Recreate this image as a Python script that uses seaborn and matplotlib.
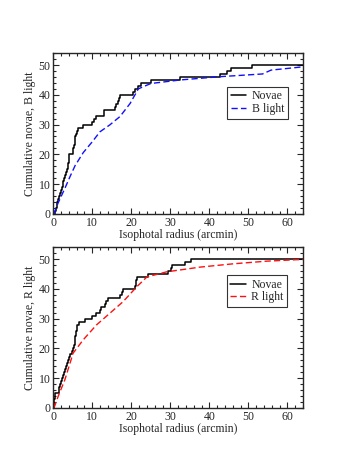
import pandas as pd
import matplotlib
matplotlib.use("Agg")
import matplotlib.pyplot as plt
from matplotlib.ticker import MultipleLocator
import seaborn as sns

# sorted isophotal radii (arcmin) of the 50 novae, B and R images
novae_radius_B = [0.5, 0.7, 0.9, 1.1, 1.3, 1.5, 1.7, 2.0, 2.2, 2.5,
                  2.6, 2.8, 3.1, 3.4, 3.6, 3.8, 3.9, 4.0, 4.05, 4.1,
                  5.0, 5.2, 5.4, 5.5, 5.6, 5.7, 5.8, 6.0, 6.3, 7.6,
                  10.0, 10.4, 10.9, 12.9, 13.0, 15.9, 16.2, 16.6, 16.8, 17.0,
                  20.5, 21.0, 21.8, 22.4, 25.1, 32.6, 42.8, 44.5, 45.6, 51.0]
novae_radius_R = [0.2, 0.25, 0.3, 0.35, 0.4, 1.4, 1.6, 1.8, 2.0, 2.3,
                  2.5, 2.7, 2.9, 3.2, 3.6, 3.8, 4.1, 4.4, 4.7, 5.0,
                  5.3, 5.5, 5.6, 5.7, 5.8, 5.9, 6.0, 6.1, 6.6, 8.2,
                  10.0, 10.9, 12.0, 12.3, 13.3, 13.6, 14.1, 17.1, 17.6, 17.9,
                  21.0, 21.1, 21.2, 21.4, 24.3, 29.5, 30.2, 30.4, 33.8, 35.2]

# cumulative light, scaled to 50 novae
light_B_radius = [0.2, 1.2, 3.0, 4.3, 5.6, 7.7, 9.8, 12.0, 14.5, 17.1, 19.7,
                  21.8, 25.0, 32.6, 42.8, 53.6, 55.8, 64.0]
light_B_value = [0, 3.5, 8.6, 12.5, 16.2, 20.6, 23.9, 27.6, 29.9, 32.7, 37.1,
                 42.0, 43.8, 45.0, 46.1, 47.0, 48.3, 49.4]
light_R_radius = [0.2, 1.3, 3.0, 5.1, 7.7, 11.1, 14.5, 17.9, 21.4, 24.0,
                  29.0, 37.6, 46.0, 54.7, 64.0]
light_R_value = [0, 4.0, 9.5, 18.4, 22.9, 27.9, 31.8, 35.7, 40.7, 44.0,
                 45.7, 47.3, 48.4, 49.3, 49.9]

x_max = 64
y_max = 54

sns.set_style("ticks")
plt.rcParams["font.family"] = ["Liberation Serif", "DejaVu Serif"]
fs = 8.5
plt.rcParams["font.size"] = fs


def novae_frame(radii):
    r = [0] + list(radii) + [x_max]
    n = [0] + list(range(1, len(radii) + 1)) + [len(radii)]
    return pd.DataFrame({"radius": r, "count": n})


fig = plt.figure(figsize=(3.57, 4.62), dpi=100)
ax1 = fig.add_axes([0.149, 0.537, 0.700, 0.348])
ax2 = fig.add_axes([0.149, 0.117, 0.700, 0.348])

panels = [
    (ax1, novae_radius_B, light_B_radius, light_B_value, "#1010ff", "B light", (0.94, 0.79)),
    (ax2, novae_radius_R, light_R_radius, light_R_value, "#ff1010", "R light", (0.937, 0.826)),
]

for ax, nrad, lrad, lval, col, name, anchor in panels:
    nd = novae_frame(nrad)
    ld = pd.DataFrame({"radius": lrad, "value": lval})
    sns.lineplot(data=nd, x="radius", y="count", ax=ax, color="black",
                 lw=1.1, drawstyle="steps-post", label="Novae", sort=False)
    sns.lineplot(data=ld, x="radius", y="value", ax=ax, color=col,
                 lw=1.0, dashes=False, label=name, sort=False)
    ax.lines[1].set_dashes([4.5, 2.3])
    ax.set_xlim(0, x_max)
    ax.set_ylim(0, y_max)
    ax.xaxis.set_major_locator(MultipleLocator(10))
    ax.xaxis.set_minor_locator(MultipleLocator(2))
    ax.yaxis.set_major_locator(MultipleLocator(10))
    ax.yaxis.set_minor_locator(MultipleLocator(2))
    ax.tick_params(which="both", direction="in", top=True, right=True,
                   labelsize=fs, width=0.8, pad=2)
    ax.tick_params(which="major", length=4.5)
    ax.tick_params(which="minor", length=2.3)
    for s in ax.spines.values():
        s.set_linewidth(1.0)
    ax.set_xlabel("Isophotal radius (arcmin)", fontsize=fs, labelpad=0)
    ax.set_ylabel("Cumulative novae, " + name, fontsize=fs, labelpad=2)
    leg = ax.legend(loc="upper right", bbox_to_anchor=anchor, fontsize=fs,
                    frameon=True, fancybox=False, edgecolor="black",
                    handlelength=1.3, borderpad=0.3, labelspacing=0.05,
                    handletextpad=0.5, borderaxespad=0)
    leg.get_frame().set_linewidth(0.8)

fig.savefig("out.png", dpi=100)
